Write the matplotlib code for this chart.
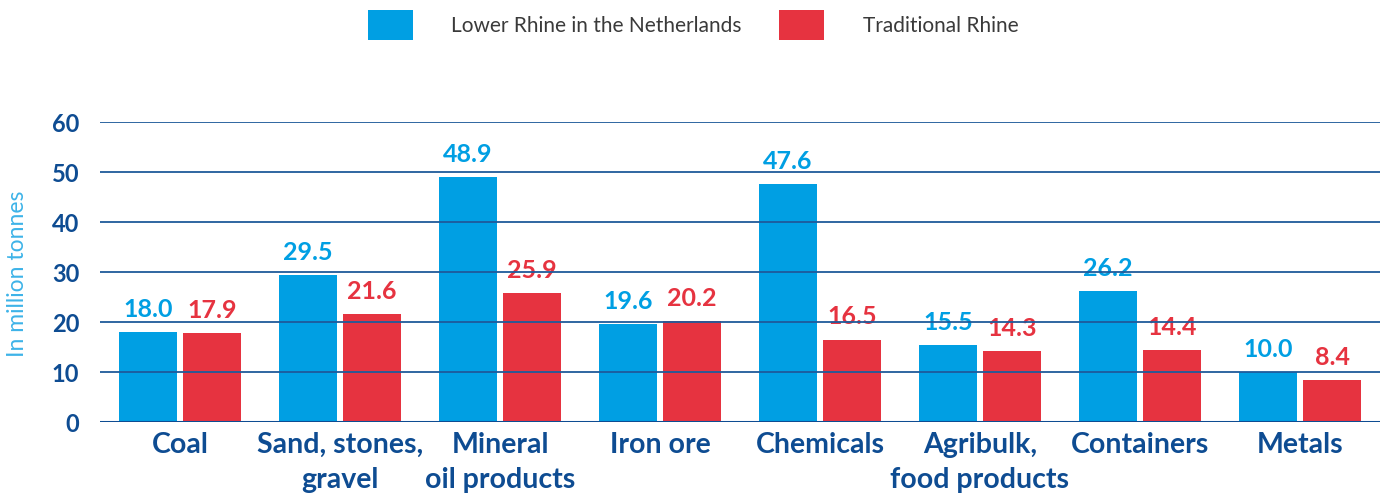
import numpy as np
import matplotlib.pyplot as plt

categories = ['Coal', 'Sand, stones,\ngravel', 'Mineral\noil products', 'Iron ore',
              'Chemicals', 'Agribulk,\nfood products', 'Containers', 'Metals']
lower_rhine = [18.0, 29.5, 48.9, 19.6, 47.6, 15.5, 26.2, 10.0]
traditional = [17.9, 21.6, 25.9, 20.2, 16.5, 14.3, 14.4, 8.4]
yticks = [0, 10, 20, 30, 40, 50, 60]

blue = '#009FE3'
red = '#E63340'
navy = '#0E4C92'

plt.rcParams['font.family'] = ['Lato', 'DejaVu Sans']

fig = plt.figure(figsize=(13.86, 4.98), dpi=100)
ax = fig.add_axes([100/1386, 76/498, 1280/1386, 300/498])

x = np.arange(len(categories))
w = 0.3625
b1 = ax.bar(x - 0.2, lower_rhine, width=w, color=blue, label='Lower Rhine in the Netherlands', zorder=2)
b2 = ax.bar(x + 0.2, traditional, width=w, color=red, label='Traditional Rhine', zorder=2)

for i in range(len(categories)):
    ax.text(x[i] - 0.2, lower_rhine[i] + 2.2, '%.1f' % lower_rhine[i], color=blue,
            ha='center', va='bottom', fontsize=18, fontweight='bold')
    ax.text(x[i] + 0.2, traditional[i] + 2.2, '%.1f' % traditional[i], color=red,
            ha='center', va='bottom', fontsize=18, fontweight='bold')

# grid lines sit on top of the bars
for t in yticks[1:]:
    ax.axhline(t, color='#1F5A9A', lw=1.3, zorder=3)
ax.axhline(0, color=navy, lw=2.2, zorder=3)

ax.set_xlim(-0.5, 7.5)
ax.set_ylim(0, 60)
ax.set_yticks(yticks)
ax.set_xticks(x)
ax.set_xticklabels(categories, fontsize=20.5, fontweight='bold', color=navy, linespacing=1.42)
for lab in ax.get_yticklabels():
    lab.set_fontsize(17)
    lab.set_fontweight('bold')
    lab.set_color(navy)
ax.tick_params(axis='both', length=0)
ax.tick_params(axis='y', pad=15)
ax.tick_params(axis='x', pad=7)
for s in ax.spines.values():
    s.set_visible(False)

fig.text(18/1386, 1 - 274/498, 'In million tonnes', rotation=90, color='#3DB3E8',
         fontsize=16.5, ha='center', va='center')

fig.legend(handles=[b1, b2], loc='center', bbox_to_anchor=(0.5, 1 - 25/498), ncol=2,
           frameon=False, handlelength=2.15, handleheight=1.8,
           handletextpad=1.85, columnspacing=1.8, labelcolor='#3a3a3a',
           prop={'family': 'Lato', 'size': 15})

fig.savefig('out.png', dpi=100)
